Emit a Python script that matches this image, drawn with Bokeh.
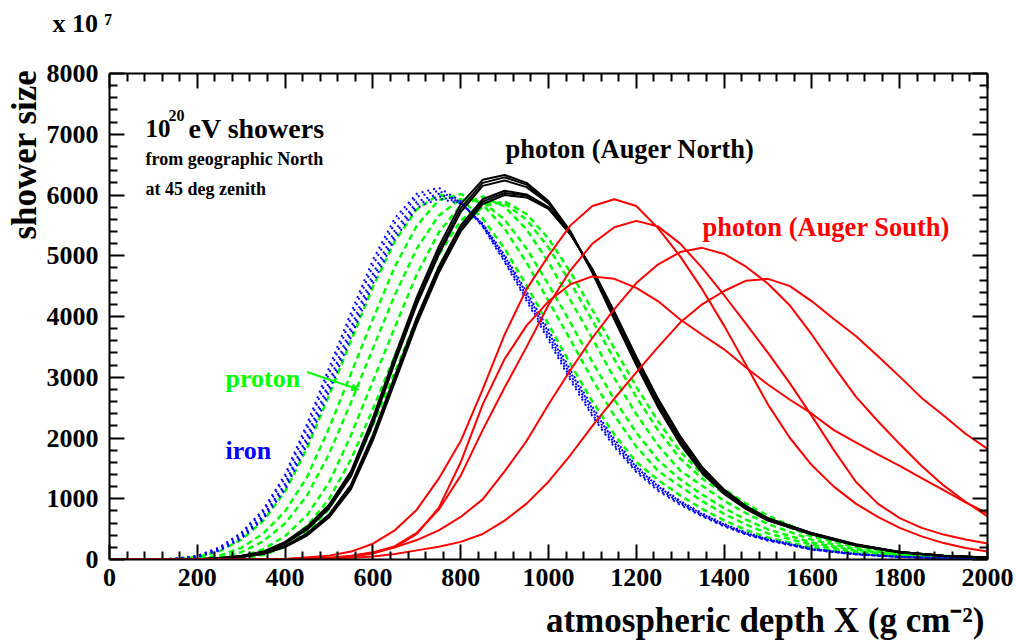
import math
from bokeh.plotting import figure
from bokeh.models import Range1d, FixedTicker, Label, Arrow, NormalHead, LinearAxis, Title
from bokeh.embed import file_html
from bokeh.resources import INLINE

# ---------------- data ----------------
X_FAM = [0, 100, 150, 200, 250, 300, 350, 400, 450, 500, 550, 600, 650, 700, 750, 800, 850,
         900, 950, 1000, 1050, 1100, 1150, 1200, 1250, 1300, 1350, 1400, 1450, 1500,
         1600, 1700, 1800, 1900, 2000]

photon_north = [
    [0, 0, 0, 5, 25, 60, 130, 290, 540, 900, 1450, 2330, 3350, 4320, 5150, 5850, 6250, 6330, 6200, 5900, 5400, 4720, 3950, 3200, 2500, 1900, 1420, 1080, 830, 640, 410, 230, 115, 58, 28],
    [0, 0, 0, 5, 22, 55, 120, 270, 510, 860, 1400, 2270, 3280, 4250, 5080, 5780, 6200, 6290, 6170, 5880, 5390, 4730, 3980, 3230, 2530, 1930, 1440, 1090, 840, 645, 415, 235, 118, 59, 29],
    [0, 0, 0, 5, 20, 52, 115, 260, 490, 840, 1370, 2230, 3240, 4200, 5020, 5720, 6150, 6240, 6130, 5860, 5380, 4740, 3990, 3250, 2550, 1950, 1460, 1100, 850, 650, 420, 240, 120, 60, 30],
    [0, 0, 0, 4, 18, 45, 100, 225, 430, 740, 1230, 2050, 3020, 3980, 4820, 5500, 5930, 6070, 6010, 5800, 5360, 4760, 4040, 3300, 2600, 2000, 1500, 1130, 870, 670, 430, 245, 122, 61, 31],
    [0, 0, 0, 4, 17, 43, 95, 215, 410, 710, 1190, 2000, 2960, 3920, 4760, 5450, 5890, 6035, 5990, 5790, 5360, 4770, 4060, 3320, 2620, 2010, 1510, 1140, 875, 675, 432, 247, 123, 62, 31],
    [0, 0, 0, 4, 16, 40, 90, 205, 395, 690, 1160, 1960, 2920, 3880, 4720, 5400, 5850, 6000, 5960, 5770, 5350, 4780, 4080, 3340, 2640, 2030, 1520, 1150, 880, 680, 435, 250, 125, 62, 31],
]

proton = [
    [0, 2, 9, 39, 134, 324, 635, 1118, 1833, 2700, 3600, 4486, 5240, 5765, 6005, 5931, 5614, 5115, 4509, 3872, 3218, 2600, 2056, 1606, 1305, 1055, 833, 644, 485, 363, 194, 102, 52, 25, 12],
    [0, 1, 3, 16, 62, 192, 425, 794, 1359, 2160, 3060, 3958, 4820, 5495, 5915, 6015, 5842, 5445, 4887, 4256, 3614, 2960, 2368, 1858, 1455, 1205, 959, 752, 575, 429, 242, 126, 65, 32, 15],
    [0, 1, 2, 8, 35, 121, 299, 594, 1053, 1736, 2584, 3475, 4354, 5118, 5663, 5930, 5889, 5595, 5118, 4526, 3897, 3251, 2633, 2087, 1632, 1317, 1069, 845, 655, 495, 279, 145, 76, 38, 18],
    [0, 0, 1, 2, 12, 49, 168, 385, 731, 1265, 2045, 2934, 3824, 4693, 5385, 5829, 5977, 5809, 5434, 4891, 4268, 3636, 2984, 2391, 1877, 1462, 1215, 968, 761, 583, 326, 168, 89, 44, 22],
    [0, 0, 1, 1, 7, 30, 108, 275, 555, 993, 1647, 2477, 3362, 4237, 5013, 5579, 5873, 5864, 5593, 5136, 4556, 3932, 3293, 2674, 2123, 1661, 1332, 1086, 860, 668, 378, 206, 108, 55, 28],
    [0, 0, 0, 1, 4, 20, 73, 210, 451, 831, 1409, 2205, 3087, 3965, 4792, 5429, 5811, 5896, 5688, 5282, 4728, 4108, 3477, 2842, 2270, 1780, 1401, 1156, 919, 719, 410, 229, 120, 62, 30],
]

iron = [
    [0, 3, 15, 60, 200, 440, 820, 1400, 2230, 3150, 4060, 4930, 5620, 6020, 6120, 5900, 5480, 4900, 4260, 3610, 2950, 2360, 1850, 1440, 1130, 900, 710, 545, 410, 310, 160, 82, 41, 20, 9],
    [0, 2, 13, 55, 185, 415, 780, 1340, 2150, 3060, 3970, 4840, 5540, 5970, 6070, 5880, 5490, 4920, 4290, 3650, 2990, 2390, 1880, 1460, 1150, 915, 720, 555, 418, 318, 165, 85, 42, 21, 10],
    [0, 2, 11, 48, 165, 380, 720, 1250, 2030, 2920, 3820, 4700, 5420, 5890, 6020, 5880, 5510, 4960, 4340, 3700, 3040, 2440, 1920, 1490, 1180, 935, 735, 568, 428, 325, 170, 88, 44, 22, 10],
    [0, 2, 10, 44, 155, 360, 690, 1200, 1960, 2840, 3740, 4620, 5350, 5840, 5980, 5870, 5520, 4990, 4380, 3740, 3080, 2480, 1950, 1520, 1200, 950, 748, 578, 436, 331, 174, 90, 45, 22, 10],
    [0, 1, 9, 40, 145, 340, 660, 1150, 1890, 2760, 3660, 4540, 5280, 5790, 5940, 5860, 5530, 5010, 4410, 3780, 3120, 2510, 1980, 1540, 1220, 965, 760, 588, 444, 337, 178, 92, 46, 23, 11],
]

X_RED = [0, 200, 400, 500, 550, 600, 650, 700, 750, 800, 850, 900, 950, 1000, 1050, 1100, 1150,
         1200, 1250, 1300, 1350, 1400, 1450, 1500, 1550, 1600, 1650, 1700, 1750, 1800, 1850,
         1900, 1950, 2000]

photon_south = [
    [0, 0, 10, 60, 130, 260, 480, 820, 1330, 1950, 2800, 3700, 4450, 5000, 5500, 5820, 5930, 5820, 5450, 4990, 4450, 3850, 3200, 2550, 2000, 1550, 1200, 920, 700, 520, 380, 270, 190, 130],
    [0, 0, 5, 20, 50, 110, 220, 440, 820, 1380, 2130, 2830, 3500, 4190, 4760, 5200, 5470, 5574, 5480, 5200, 4800, 4350, 3880, 3400, 2900, 2360, 1800, 1280, 920, 680, 520, 410, 330, 264],
    [0, 0, 5, 20, 45, 100, 200, 420, 850, 1600, 2550, 3300, 3850, 4250, 4530, 4660, 4620, 4470, 4250, 3950, 3700, 3460, 3160, 2880, 2630, 2400, 2130, 1930, 1730, 1540, 1340, 1140, 940, 760],
    [0, 0, 10, 30, 60, 120, 200, 320, 480, 700, 990, 1450, 1950, 2550, 3120, 3650, 4120, 4550, 4860, 5060, 5130, 5030, 4820, 4540, 4180, 3700, 3180, 2680, 2280, 1900, 1540, 1220, 950, 710],
    [0, 0, 5, 15, 30, 50, 90, 150, 210, 290, 420, 640, 920, 1280, 1720, 2200, 2650, 3080, 3500, 3900, 4200, 4420, 4590, 4620, 4500, 4250, 3960, 3680, 3350, 3010, 2660, 2370, 2070, 1820],
]

X_TICKS = [0, 200, 400, 600, 800, 1000, 1200, 1400, 1600, 1800, 2000]
Y_TICKS = [0, 1000, 2000, 3000, 4000, 5000, 6000, 7000, 8000]

# ---------------- figure ----------------
FL, FB = 109, 559          # frame left / bottom in page pixels
FONT = "Liberation Serif"

p = figure(width=1016, height=640, x_range=Range1d(0, 2000), y_range=Range1d(0, 8000),
           output_backend="svg", toolbar_location=None, title_location=None,
           min_border_left=FL, min_border_right=29, min_border_top=73, min_border_bottom=81)
p.xgrid.visible = False
p.ygrid.visible = False
p.outline_line_color = None
p.background_fill_color = "white"
p.border_fill_color = "white"

x_minor = [v for v in range(0, 2001, 40) if v % 200]
y_minor = [v for v in range(0, 8001, 200) if v % 1000]


def style_axis(ax, ticks, minors, show_labels, standoff, size="26px"):
    ax.ticker = FixedTicker(ticks=ticks, minor_ticks=minors)
    ax.axis_line_width = 2
    ax.axis_line_color = "black"
    ax.major_tick_in = 15
    ax.major_tick_out = 0
    ax.minor_tick_in = 8
    ax.minor_tick_out = 0
    ax.major_tick_line_width = 2
    ax.minor_tick_line_width = 2
    ax.major_tick_line_color = "black"
    ax.minor_tick_line_color = "black"
    ax.major_label_text_font = FONT
    ax.major_label_text_font_style = "bold"
    ax.major_label_standoff = standoff
    ax.major_label_text_font_size = size
    ax.major_label_text_color = "black" if show_labels else None


def spacer(px):
    # an empty axis used only to reserve room in a side panel
    ax = LinearAxis(ticker=FixedTicker(ticks=[0]), axis_line_color=None,
                    major_tick_line_color=None, minor_tick_line_color=None,
                    major_tick_in=0, major_tick_out=px, minor_tick_in=0, minor_tick_out=0,
                    major_label_text_color=None, major_label_text_font_size="1px",
                    major_label_standoff=0)
    return ax


style_axis(p.xaxis[0], X_TICKS, x_minor, True, 9)
style_axis(p.yaxis[0], Y_TICKS, y_minor, True, 11)
top = LinearAxis()
right = LinearAxis()
style_axis(top, X_TICKS, x_minor, False, 0, "1px")
style_axis(right, Y_TICKS, y_minor, False, 0, "1px")
p.add_layout(top, "above")
p.add_layout(right, "right")
p.add_layout(spacer(36), "above")
p.add_layout(spacer(10), "below")


def title(text, side, align, size, offset):
    p.add_layout(Title(text=text, align=align, offset=offset, standoff=0,
                       text_font=FONT, text_font_style="bold", text_font_size=f"{size}px",
                       text_color="black"), side)


title("shower size", "left", "right", 35, -4)
title("atmospheric depth X (g cm\u207b\u00b2)", "below", "right", 35, 3)
title("x 10 \u2077", "above", "left", 26, -57)

# ---------------- curves ----------------
for ys in proton:
    p.line(X_FAM, ys, line_color="#00ff00", line_width=2.5, line_dash="6 4")
for ys in iron:
    p.line(X_FAM, ys, line_color="#0000ff", line_width=2, line_dash="2 4")
for ys in photon_north:
    p.line(X_FAM, ys, line_color="black", line_width=2)
for ys in photon_south:
    p.line(X_RED, ys, line_color="#ff0000", line_width=2)

p.add_layout(Arrow(end=NormalHead(size=7, fill_color="#00ff00", line_color="#00ff00"),
                   x_start=450, y_start=3086, x_end=568, y_end=2796,
                   line_color="#00ff00", line_width=2))


# ---------------- texts inside the frame ----------------
def lab(text, px, py, size, color="black", align="left"):
    p.add_layout(Label(x=px - FL, y=FB - py, x_units="screen", y_units="screen", text=text,
                       text_font=FONT, text_font_style="bold", text_font_size=f"{size}px",
                       text_color=color, text_align=align, text_baseline="alphabetic"))


lab("10", 145, 128, 25)
lab("20", 168, 115, 16)
lab("eV showers", 188, 128, 28)
lab("from geographic North", 145, 158, 18)
lab("at 45 deg zenith", 145, 188, 18)
lab("photon (Auger North)", 505, 148, 26.5)
lab("photon (Auger South)", 702, 226, 26.5, color="#ff0000")
lab("proton", 225, 378, 26, color="#00ff00")
lab("iron", 225, 450, 26, color="#0000ff")

open("out.html", "w").write(file_html(p, INLINE))
